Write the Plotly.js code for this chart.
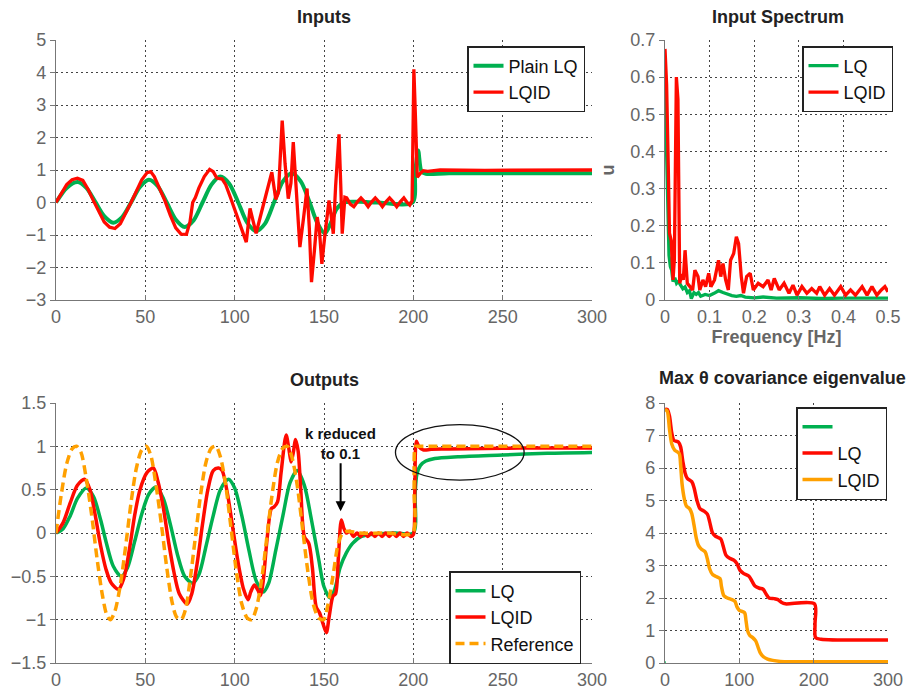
<!DOCTYPE html>
<html>
<head>
<meta charset="utf-8">
<script src="https://cdn.plot.ly/plotly-3.0.1.min.js"></script>
<style>html,body{margin:0;padding:0;background:#fff;}#chart{width:916px;height:698px;}</style>
</head>
<body>
<div id="chart"></div>
<script>
// ---------- DATA ----------
// Inputs panel: [time, u]
const inputPlainLQ = [[0,0],[6,0.45],[12,0.63],[17,0.45],[22,0.02],[27,-0.42],[32,-0.62],[37,-0.45],[42,0],[47,0.48],[52,0.7],[57,0.5],[62,0],[67,-0.52],[72,-0.75],[77,-0.55],[82,0],[87,0.55],[92,0.8],[97,0.58],[102,0],[107,-0.62],[112,-0.88],[117,-0.65],[122,0],[127,0.65],[132,0.9],[137,0.65],[142,0],[146,-0.6],[150.5,-0.95],[154,-0.6],[157,-0.2],[161,0],[170,0.02],[180,0],[199.5,0],[201,0.9],[202.7,1.6],[204.6,0.95],[207,0.88],[220,0.9],[300,0.9]];
const inputLQID = [[0,0],[3,0.3],[6,0.55],[9,0.7],[12,0.75],[15,0.68],[18,0.4],[21,0.05],[24,-0.3],[27,-0.6],[30,-0.76],[33,-0.8],[36,-0.65],[39,-0.35],[42,0],[45,0.35],[48,0.7],[51,0.92],[53,0.95],[55,0.8],[58,0.45],[61,0.05],[64,-0.4],[67,-0.78],[70,-0.97],[73,-0.98],[75,-0.6],[76.5,0],[78,0.15],[80,0.45],[83,0.8],[86,1.02],[88,0.95],[90,0.75],[93,0.72],[95,0.55],[98,0.1],[101,-0.35],[104,-0.85],[106.5,-1.22],[108.6,-0.18],[110.5,-0.6],[112,-0.95],[115,-0.3],[118,0.3],[120.8,0.93],[123,0.1],[124.5,0.3],[126.6,2.52],[128.2,1.2],[130,0.12],[131.5,0.6],[132.8,1.86],[134.6,0.3],[136.5,-1.37],[138.5,-0.5],[140.5,0.43],[141.8,-0.8],[143,-2.45],[144.6,-1.5],[146.2,-0.45],[147.5,-0.9],[148.8,-1.89],[150.5,-1.0],[152.8,0.06],[154,-0.4],[155.2,-0.96],[156.5,0.5],[158.4,2.1],[159.4,0.5],[160.2,-0.96],[161.7,0.16],[162.7,0.14],[164.7,-0.05],[166.7,-0.13],[168.7,0.02],[170.7,0.14],[172.7,0.02],[174.7,-0.13],[176.7,0.02],[178.7,0.14],[180.7,0.02],[182.7,-0.13],[184.7,0.02],[186.7,0.14],[188.7,0.02],[190.7,-0.13],[192.7,0.02],[194.7,0.14],[196.5,0.0],[198,-0.08],[199.3,0.05],[200.3,4.1],[201.2,2.6],[202.2,0.78],[204,0.9],[205.6,0.98],[208,0.96],[215,1.0],[240,0.99],[300,1.0]];

// Input spectrum panel: [frequency Hz, |u|]
const spectrumLQ = [[0,0.58],[0.003,0.4],[0.006,0.2],[0.009,0.12],[0.012,0.09],[0.015,0.08],[0.018,0.05],[0.022,0.06],[0.026,0.045],[0.03,0.05],[0.035,0.04],[0.04,0.03],[0.045,0.035],[0.05,0.02],[0.055,0.025],[0.059,0.004],[0.065,0.02],[0.07,0.015],[0.075,0.02],[0.08,0.01],[0.09,0.015],[0.1,0.012],[0.11,0.018],[0.12,0.025],[0.13,0.02],[0.14,0.015],[0.15,0.012],[0.16,0.01],[0.17,0.012],[0.18,0.008],[0.2,0.006],[0.22,0.008],[0.25,0.005],[0.3,0.006],[0.35,0.004],[0.4,0.005],[0.45,0.004],[0.5,0.005]];
const spectrumLQID = [[0,0.676],[0.0036,0.58],[0.0073,0.36],[0.010,0.18],[0.014,0.16],[0.018,0.054],[0.021,0.11],[0.0255,0.6],[0.029,0.54],[0.033,0.045],[0.038,0.07],[0.041,0.054],[0.045,0.134],[0.050,0.045],[0.056,0.036],[0.062,0.027],[0.067,0.08],[0.074,0.063],[0.078,0.027],[0.085,0.054],[0.091,0.036],[0.098,0.072],[0.103,0.036],[0.111,0.054],[0.120,0.107],[0.125,0.063],[0.130,0.098],[0.136,0.054],[0.142,0.027],[0.147,0.107],[0.154,0.125],[0.160,0.17],[0.165,0.152],[0.171,0.063],[0.176,0.018],[0.183,0.063],[0.191,0.072],[0.198,0.027],[0.209,0.045],[0.220,0.036],[0.231,0.054],[0.238,0.027],[0.245,0.058],[0.256,0.027],[0.267,0.045],[0.278,0.018],[0.287,0.04],[0.296,0.013],[0.307,0.036],[0.318,0.018],[0.329,0.031],[0.34,0.018],[0.347,0.036],[0.358,0.013],[0.369,0.031],[0.38,0.013],[0.394,0.036],[0.405,0.013],[0.416,0.027],[0.427,0.013],[0.442,0.036],[0.453,0.013],[0.464,0.036],[0.475,0.013],[0.485,0.027],[0.493,0.036],[0.5,0.022]];

// Outputs panel: [time, y]
const outputLQ = [[0,0],[4,0.05],[8,0.2],[12,0.4],[17,0.52],[21,0.42],[25,0.15],[28,-0.1],[32,-0.38],[36.5,-0.5],[40,-0.4],[44,-0.1],[48,0.22],[52,0.45],[56,0.53],[60,0.4],[64,0.1],[68,-0.25],[72,-0.5],[76.5,-0.58],[80,-0.48],[84,-0.15],[88,0.2],[92,0.5],[96.5,0.62],[100,0.52],[104,0.2],[108,-0.2],[112,-0.55],[116,-0.68],[119,-0.58],[123,-0.2],[127,0.2],[131,0.58],[135,0.72],[139,0.55],[143,0.15],[147,-0.3],[150,-0.62],[153.5,-0.75],[156,-0.65],[159,-0.4],[162.5,-0.23],[166,-0.12],[171,-0.04],[180,-0.01],[190,0],[200,0],[201,0.45],[202,0.68],[204,0.78],[207,0.83],[212,0.86],[225,0.88],[250,0.9],[275,0.92],[300,0.93]];
const outputLQID = [[0,0],[4,0.12],[8,0.35],[12,0.55],[16,0.62],[19,0.5],[22,0.2],[25,-0.15],[28,-0.42],[31,-0.58],[35,-0.65],[38,-0.52],[41,-0.2],[44,0.2],[47,0.5],[51,0.7],[54.5,0.75],[57,0.6],[60,0.3],[63,-0.1],[66,-0.45],[69,-0.7],[73.5,-0.82],[76,-0.7],[79,-0.35],[82,0.1],[85,0.5],[88,0.72],[91,0.75],[93,0.72],[96,0.45],[99,0.05],[102,-0.35],[105,-0.65],[107.5,-0.77],[109,-0.68],[111,-0.6],[113,-0.66],[114.5,-0.72],[116,-0.55],[118,-0.1],[120.5,0.28],[122,0.3],[124,0.36],[126,0.7],[128.8,1.13],[130.5,0.95],[131.6,0.82],[133,0.95],[134,1.08],[135.5,0.95],[137,0.5],[139,-0.04],[141.5,-0.12],[143.5,-0.4],[145.6,-0.85],[147.5,-0.92],[149.5,-1.05],[151.3,-1.15],[153,-0.95],[155,-0.73],[156.5,-0.7],[158,-0.3],[159.7,0.15],[161,0.06],[162.5,0.0],[164.5,0.02],[166.5,-0.04],[168.5,0.0],[170.5,-0.04],[172.5,0.0],[174.5,-0.04],[176.5,0.0],[178.5,-0.04],[180.5,0.0],[182.5,-0.04],[184.5,0.0],[186.5,-0.04],[188.5,0.0],[190.5,-0.04],[192.5,0.0],[194.5,-0.04],[196.5,0.0],[198.5,-0.04],[200,-0.02],[200.8,0.45],[201.7,1.06],[203,1.0],[205.5,0.96],[210,0.965],[220,0.97],[240,0.975],[260,0.98],[280,0.98],[300,0.98]];
const outputReference = [[0,0],[3,0.45],[6,0.8],[9,0.97],[11.5,1.0],[14,0.93],[17,0.62],[20,0.2],[23,-0.3],[26,-0.72],[28.5,-0.95],[30.5,-1.0],[33,-0.9],[36,-0.6],[39,-0.15],[42,0.35],[45,0.75],[48,0.96],[50.5,1.0],[53,0.9],[56,0.55],[59,0.1],[62,-0.4],[65,-0.8],[67.5,-0.97],[70,-1.0],[72.5,-0.88],[75,-0.55],[78,-0.05],[81,0.45],[84,0.82],[87,0.98],[89.5,1.0],[92,0.88],[95,0.55],[98,0.05],[101,-0.45],[104,-0.82],[107,-0.98],[109.5,-1.0],[112,-0.88],[115,-0.55],[118,-0.05],[121,0.45],[124,0.82],[127,0.98],[129.5,1.0],[132,0.88],[135,0.55],[138,0.05],[141,-0.45],[144,-0.82],[147,-0.98],[149.8,-1.0],[152,-0.85],[155,-0.5],[158,-0.12],[160.5,0],[163,0.02],[170,0],[185,0],[199.5,0],[200.4,0.5],[201.2,1.0],[202.5,1.0],[210,1.0],[230,1.0],[260,1.0],[300,1.0]];

// Max theta covariance eigenvalue panel: [time, eigenvalue]
const eigBlank = [[0,0],[1,0]];
const eigLQ = [[0,7.8],[3,7.8],[6,7.6],[9,7.1],[12,6.85],[18,6.8],[21,6.65],[24,6.2],[27,5.85],[30,5.68],[36,5.58],[39,5.4],[43,5.0],[47,4.75],[52,4.68],[57,4.58],[60,4.35],[64,4.0],[68,3.9],[75,3.82],[78,3.62],[82,3.32],[87,3.22],[93,3.16],[97,3.05],[101,2.85],[106,2.75],[113,2.67],[117,2.52],[121,2.37],[127,2.3],[132,2.27],[136,2.12],[140,2.0],[147,1.98],[152,1.95],[157,1.86],[162,1.82],[201,1.82],[201.8,1.2],[202.6,0.78],[210,0.73],[300,0.71]];
const eigLQID = [[0,7.8],[3,7.75],[6,7.2],[9,6.75],[13,6.55],[19,6.45],[21,6.1],[23,5.5],[26,5.05],[29,4.82],[33,4.75],[36,4.6],[39,4.25],[42,3.85],[45,3.62],[49,3.5],[54,3.42],[57,3.2],[60,2.9],[64,2.72],[70,2.65],[74,2.6],[76,2.35],[79,2.08],[84,2.0],[90,1.95],[94,1.9],[97,1.72],[100,1.62],[107,1.55],[109,1.3],[111,1.0],[114,0.85],[118,0.78],[122,0.68],[125,0.5],[128,0.32],[132,0.2],[138,0.12],[145,0.08],[155,0.05],[170,0.04],[300,0.04]];

// Annotation positions (data coords of Outputs panel)
const arrowTip = [159.3, 0.25];
const ellipseBox = [190, 262, 0.61, 1.25];

const seriesNames = {inputs: ['Plain LQ', 'LQID'], spectrum: ['LQ', 'LQID'], outputs: ['LQ', 'LQID', 'Reference'], eig: [' ', 'LQ', 'LQID']};
const panelTitles = ['Inputs', 'Input Spectrum', 'Outputs', 'Max \u03b8 covariance eigenvalue'];

// ---------- STYLE ----------
const GREEN = '#00b050', RED = '#ff0a00', ORANGE = '#ffa000';
const W = 916, H = 698;
const xs = p => p.map(v => v[0]);
const ys = p => p.map(v => v[1]);
function line(pts, color, xa, ya, lg, name, opts) {
  opts = opts || {};
  return {x: xs(pts), y: ys(pts), xaxis: xa, yaxis: ya, legend: lg, name: name, mode: 'lines', type: 'scatter',
    line: Object.assign({color: color, width: opts.width || 3.5, shape: opts.shape || 'linear', smoothing: 0.8}, opts.dash ? {dash: opts.dash} : {}),
    hoverinfo: 'skip'};
}
const traces = [
  line(inputPlainLQ, GREEN, 'x', 'y', 'legend', seriesNames.inputs[0], {shape: 'spline', width: 4}),
  line(inputLQID, RED, 'x', 'y', 'legend', seriesNames.inputs[1], {width: 3.3}),
  line(spectrumLQ, GREEN, 'x2', 'y2', 'legend2', seriesNames.spectrum[0], {width: 3.3}),
  line(spectrumLQID, RED, 'x2', 'y2', 'legend2', seriesNames.spectrum[1], {width: 3.3}),
  line(outputLQ, GREEN, 'x3', 'y3', 'legend3', seriesNames.outputs[0], {shape: 'spline'}),
  line(outputLQID, RED, 'x3', 'y3', 'legend3', seriesNames.outputs[1], {shape: 'spline'}),
  line(outputReference, ORANGE, 'x3', 'y3', 'legend3', seriesNames.outputs[2], {shape: 'spline', dash: '9px,5px'}),
  line(eigBlank, GREEN, 'x4', 'y4', 'legend4', seriesNames.eig[0]),
  line(eigLQ, RED, 'x4', 'y4', 'legend4', seriesNames.eig[1], {shape: 'spline'}),
  line(eigLQID, ORANGE, 'x4', 'y4', 'legend4', seriesNames.eig[2], {shape: 'spline'})
];

const FONT = 'Liberation Sans, Arial, sans-serif';
const tickFont = {family: FONT, size: 18, color: '#666'};
function xax(dom, anchor, range, dtick) {
  return {domain: dom, anchor: anchor, range: range, dtick: dtick, tick0: 0, showgrid: true, gridcolor: '#444', griddash: '2px,3px', gridwidth: 1,
    zeroline: false, showline: true, linecolor: '#777', linewidth: 1.2, ticks: 'inside', ticklen: 5, tickcolor: '#777',
    tickfont: tickFont, fixedrange: true};
}
function yax(dom, anchor, range, dtick) {
  return {domain: dom, anchor: anchor, range: range, dtick: dtick, tick0: 0, showgrid: true, gridcolor: '#444', griddash: '2px,3px', gridwidth: 1,
    zeroline: false, showline: true, linecolor: '#777', linewidth: 1.2, ticks: 'outside', ticklen: 5, tickcolor: '#777',
    tickfont: tickFont, fixedrange: true};
}
const xL = [56 / W, 592 / W], xR = [665 / W, 888 / W];
const yT = [1 - 300 / H, 1 - 40 / H], yB = [1 - 663 / H, 1 - 403 / H];
function legendAt(right, top) {
  return {x: right / W, y: 1 - top / H, xanchor: 'right', yanchor: 'top', bgcolor: '#fff', bordercolor: '#222', borderwidth: 1.5,
    font: {family: FONT, size: 18, color: '#111'}, tracegroupgap: 0, itemwidth: 30};
}
const titleFont = {family: FONT, size: 18, color: '#222', weight: 'bold'};
function title(text, cx, cy) {
  return {text: '<b>' + text + '</b>', xref: 'paper', yref: 'paper', x: cx / W, y: 1 - cy / H, showarrow: false, xanchor: 'center', yanchor: 'middle', font: titleFont};
}
const layout = {
  width: W, height: H, margin: {l: 0, r: 0, t: 0, b: 0}, paper_bgcolor: '#fff', plot_bgcolor: '#fff', showlegend: true,
  xaxis: xax(xL, 'y', [0, 300], 50),
  yaxis: yax(yT, 'x', [-3, 5], 1),
  xaxis2: Object.assign(xax(xR, 'y2', [0, 0.5], 0.1), {title: {text: '<b>Frequency [Hz]</b>', font: {family: FONT, size: 18, color: '#666'}, standoff: 4}}),
  yaxis2: Object.assign(yax(yT, 'x2', [0, 0.7], 0.1), {title: {text: '<b>u</b>', font: {family: FONT, size: 18, color: '#666'}, standoff: 10}}),
  xaxis3: xax(xL, 'y3', [0, 300], 50),
  yaxis3: yax(yB, 'x3', [-1.5, 1.5], 0.5),
  xaxis4: xax(xR, 'y4', [0, 300], 100),
  yaxis4: yax(yB, 'x4', [0, 8], 1),
  legend: legendAt(585, 46),
  legend2: legendAt(893, 46),
  legend3: legendAt(581, 571),
  legend4: legendAt(887, 407),
  annotations: [
    title(panelTitles[0], 324, 17), title(panelTitles[1], 778, 17), title(panelTitles[2], 324, 380), title(panelTitles[3], 782, 378),
    {text: '<b>k reduced<br>to 0.1</b>', xref: 'x3', yref: 'y3', x: arrowTip[0], y: arrowTip[1], ax: 0, ay: -68, showarrow: true,
      arrowhead: 2, arrowsize: 1, arrowwidth: 2, arrowcolor: '#000', standoff: 0, font: {family: FONT, size: 15, color: '#111'}, align: 'center'}
  ],
  shapes: [
    {type: 'circle', xref: 'x3', yref: 'y3', x0: ellipseBox[0], x1: ellipseBox[1], y0: ellipseBox[2], y1: ellipseBox[3], line: {color: '#111', width: 1.3}}
  ]
};
Plotly.newPlot('chart', traces, layout, {staticPlot: true, displayModeBar: false});
</script>
</body>
</html>
